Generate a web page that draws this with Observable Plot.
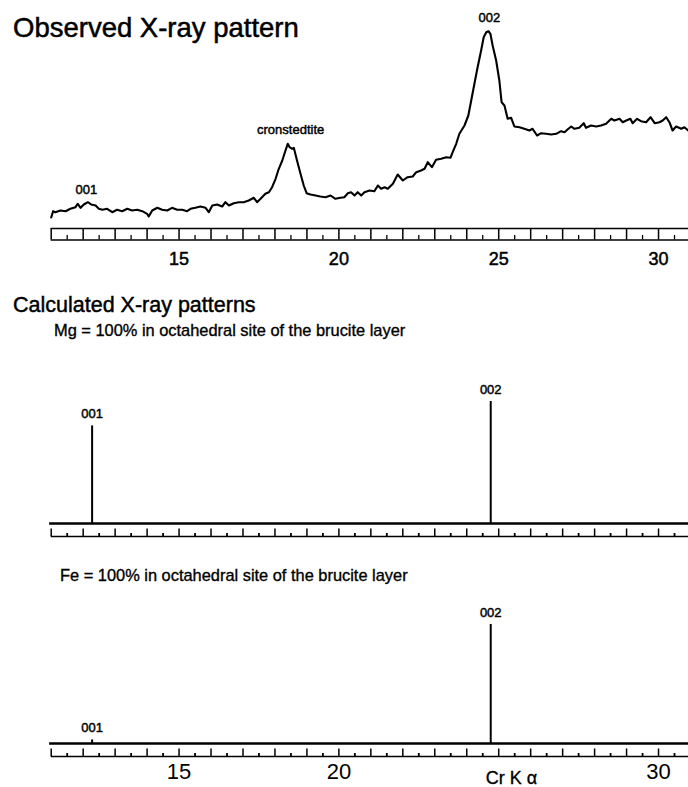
<!DOCTYPE html>
<html><head><meta charset="utf-8">
<script src="https://cdn.jsdelivr.net/npm/d3@7"></script>
<script src="https://cdn.jsdelivr.net/npm/@observablehq/plot@0.6"></script>
<style>
html,body{margin:0;padding:0;background:#fff;}
#root{position:relative;width:688px;height:787px;overflow:hidden;font-family:"Liberation Sans",Arial,Helvetica,sans-serif;color:#000;}
.t{position:absolute;white-space:nowrap;line-height:1;-webkit-text-stroke:0.35px #000;}
.p{position:absolute;left:0;}
</style></head><body><div id="root"></div>
<script>
// ---------- DATA ----------
// Observed pattern: 2θ (deg, Cr Kα) and relative intensity (arbitrary units)
const obsTheta = [
  11.00, 11.06, 11.13, 11.29, 11.45, 11.60, 11.76, 11.83, 11.92, 12.02,
  12.15, 12.25, 12.39, 12.49, 12.60, 12.75, 12.91, 13.06, 13.22, 13.38,
  13.53, 13.69, 13.85, 14.00, 14.05, 14.16, 14.32, 14.47, 14.63, 14.78,
  14.94, 15.10, 15.25, 15.36, 15.51, 15.67, 15.83, 15.93, 16.04, 16.19,
  16.35, 16.45, 16.56, 16.71, 16.87, 17.02, 17.18, 17.34, 17.44, 17.55,
  17.70, 17.81, 17.91, 18.02, 18.12, 18.23, 18.33, 18.40, 18.46, 18.54,
  18.59, 18.69, 18.80, 18.90, 18.99, 19.11, 19.27, 19.42, 19.58, 19.74,
  19.89, 20.05,
  20.17, 20.28, 20.38, 20.49, 20.59, 20.70, 20.80, 20.96, 21.11, 21.22,
  21.32, 21.43, 21.53, 21.69, 21.84, 22.00, 22.15, 22.31, 22.42, 22.57,
  22.68, 22.78, 22.91, 23.04, 23.20, 23.36, 23.49, 23.56, 23.67, 23.77,
  23.93, 24.05, 24.14, 24.24, 24.34, 24.45, 24.53, 24.61, 24.68, 24.74,
  24.81, 24.92, 25.02, 25.09, 25.18, 25.28, 25.39, 25.49, 25.65, 25.80,
  25.96, 26.06, 26.20, 26.33, 26.48, 26.64, 26.80, 26.95, 27.06, 27.18,
  27.27, 27.37, 27.52, 27.66, 27.73, 27.89, 28.05, 28.20, 28.36, 28.52,
  28.62, 28.78, 28.88, 28.99, 29.12, 29.19, 29.33, 29.45, 29.61, 29.75,
  29.88, 30.03, 30.13, 30.24, 30.34, 30.44, 30.55, 30.71, 30.81, 30.93
];
const obsIntensity = [
  3, 9.3, 8.3, 10, 9.3, 11.7, 13.3, 16.7, 12.7, 16,
  18.3, 16, 15, 11.7, 10.7, 11.7, 8.3, 10.7, 9.3, 11.7,
  10, 10.7, 9.3, 6.7, 4, 10, 12.7, 10.7, 10, 12.7,
  10.7, 10.7, 9.3, 11.7, 12.7, 14, 12.7, 8.3, 15, 16,
  14, 18.3, 15, 17.3, 18.3, 18.3, 20, 22.7, 18.3, 21.7,
  26.7, 28.3, 33.3, 41.7, 51.7, 60, 70, 76.7, 73.3, 71.7,
  72.7, 60, 46.7, 35, 27.3, 26, 25, 24, 23.3, 25,
  21.7, 22.7,
  23.3, 27.3, 28.3, 25, 28.3, 25, 28.3, 30, 29.3, 35,
  31.7, 33.3, 31.7, 36.7, 46, 40, 43.3, 44, 48.3, 50,
  51.7, 58.3, 53.3, 60.7, 61.7, 63.3, 62.7, 68.3, 76.7, 86.7,
  95, 105, 120, 136.7, 153.3, 170, 183.3, 188.3, 189.3, 186.7,
  175, 160, 140, 118.3, 115, 101.7, 102.7, 94, 93.3, 91.7,
  90, 91.7, 85, 87.3, 86.7, 86, 86.7, 89.3, 88.3, 91.7,
  94, 91.7, 92.7, 97.3, 92.7, 95, 94, 95, 96.7, 101.7,
  100, 101.7, 98.3, 100, 101.7, 97.3, 101.7, 99.3, 98.3, 103.3,
  97.3, 98.3, 100, 103.3, 98.3, 90, 94, 91.7, 93.3, 90
];
// Observed peak annotations
const obsLabelText  = ["001", "cronstedtite", "002"];
const obsLabelTheta = [12.10, 18.49, 24.71];
const obsLabelI     = [27, 87, 199];

// Calculated patterns (relative intensity, 002 = 100)
const calcReflections = ["001", "002"];
const calcTheta       = [12.28, 24.75];
const mgIntensity     = [80, 100];
const feIntensity     = [3, 100];

// Axis
const xDomain = [11, 31];
const topTickLabels = [15, 20, 25, 30];
const bottomTickLabels = [15, 20, 30];
const axisTitle = "Cr K \u03b1";
const axisTitleTheta = 25.4;

// ---------- BUILD ----------
if (obsTheta.length !== obsIntensity.length) console.error("length mismatch", obsTheta.length, obsIntensity.length);
const FONT = '"Liberation Sans", Arial, Helvetica, sans-serif';
const X = {domain: xDomain, range: [50.7, 690]};
const wholeDeg = d3.range(xDomain[0], xDomain[1] + 0.001, 1);
const halfDeg = d3.range(xDomain[0] + 0.5, xDomain[1], 1);
const obs = obsTheta.map((t, i) => ({t, I: obsIntensity[i]}));
const obsLabels = obsLabelText.map((s, i) => ({s, t: obsLabelTheta[i], I: obsLabelI[i]}));
const mg = calcReflections.map((s, i) => ({s, t: calcTheta[i], I: mgIntensity[i]}));
const fe = calcReflections.map((s, i) => ({s, t: calcTheta[i], I: feIntensity[i]}));

const root = document.getElementById("root");
function place(el, top) { el.classList.add("p"); el.style.top = top + "px"; root.appendChild(el); }
function addText(txt, left, top, size, stroke) {
  const d = document.createElement("div");
  d.className = "t"; d.textContent = txt;
  d.style.left = left + "px"; d.style.top = top + "px"; d.style.fontSize = size + "px";
  if (stroke != null) d.style.webkitTextStroke = stroke + "px #000";
  root.appendChild(d);
}
const baseStyle = {background: "transparent", fontFamily: FONT, overflow: "visible", color: "#000"};
const labelStyle = {fill: "#000", stroke: "#000", strokeWidth: 0.45};

// Panel 1: observed
{
  const yDom = [0, 200], yRng = [220, 20];
  const k = (yRng[0] - yRng[1]) / (yDom[1] - yDom[0]);
  const off = n => -n / k;
  const svg = Plot.plot({
    width: 688, height: 275,
    x: {...X, axis: null}, y: {domain: yDom, range: yRng, axis: null},
    style: baseStyle,
    marks: [
      Plot.line(obs, {x: "t", y: "I", stroke: "#000", strokeWidth: 2.1, strokeLinejoin: "round"}),
      Plot.ruleY([off(8), off(19.5)], {x1: xDomain[0], x2: xDomain[1], stroke: "#000", strokeWidth: 1.7}),
      Plot.ruleX(wholeDeg, {x: d => d, y1: off(8), y2: off(19.5), stroke: "#000", strokeWidth: 1.5}),
      Plot.ruleX(halfDeg, {x: d => d, y1: off(19.5), y2: off(15), stroke: "#000", strokeWidth: 1.3}),
      Plot.text(topTickLabels, {x: d => d, y: off(32), text: d => String(d), lineAnchor: "top", fontSize: 18, ...labelStyle, strokeWidth: 0.5, ariaLabel: "toptick"}),
      Plot.text(obsLabels, {x: "t", y: "I", text: "s", lineAnchor: "bottom", fontSize: 13, ...labelStyle})
    ]
  });
  d3.select(svg).selectAll('g[aria-label="toptick"] text').attr("letter-spacing", "3px");
  place(svg, 0);
}

// Calculated panels
function calcPanel(data, top, height, baseLocal, peakLocal, withLabels) {
  const yDom = [0, 100], yRng = [baseLocal, peakLocal];
  const k = (yRng[0] - yRng[1]) / (yDom[1] - yDom[0]);
  const off = n => -n / k;
  const marks = [
    Plot.ruleY([0], {x1: 10.95, x2: xDomain[1], stroke: "#000", strokeWidth: 2.5}),
    Plot.ruleX(data, {x: "t", y1: 0, y2: "I", stroke: "#000", strokeWidth: 2}),
    Plot.text(data, {x: "t", y: "I", text: "s", dy: -8, lineAnchor: "bottom", fontSize: 13, ...labelStyle}),
    Plot.ruleY([off(13)], {x1: xDomain[0], x2: xDomain[1], stroke: "#000", strokeWidth: 1.6}),
    Plot.ruleX(wholeDeg, {x: d => d, y1: off(13), y2: off(5.5), stroke: "#000", strokeWidth: 1.5}),
    Plot.ruleX(halfDeg, {x: d => d, y1: off(13), y2: off(10), stroke: "#000", strokeWidth: 1.8})
  ];
  if (withLabels) {
    marks.push(Plot.text(bottomTickLabels, {x: d => d, y: off(20), text: d => String(d), lineAnchor: "top", fontSize: 22, fill: "#000"}));
    marks.push(Plot.text([axisTitle], {x: axisTitleTheta, y: off(40), text: d => d, lineAnchor: "bottom", fontSize: 18, ...labelStyle, strokeWidth: 0.35}));
  }
  const svg = Plot.plot({
    width: 688, height,
    x: {...X, axis: null}, y: {domain: yDom, range: yRng, axis: null},
    style: baseStyle, marks
  });
  place(svg, top);
}
calcPanel(mg, 340, 220, 183, 61, false);
calcPanel(fe, 590, 197, 153, 34, true);

// Titles (on top)
addText("Observed X-ray pattern", 13, 14, 27.5, 0.5);
addText("Calculated X-ray patterns", 13, 294.6, 21.5, 0.45);
addText("Mg = 100% in octahedral site of the brucite layer", 54, 321.5, 16.4, 0.35);
addText("Fe = 100% in octahedral site of the brucite layer", 60, 567, 16.4, 0.35);
</script></body></html>
